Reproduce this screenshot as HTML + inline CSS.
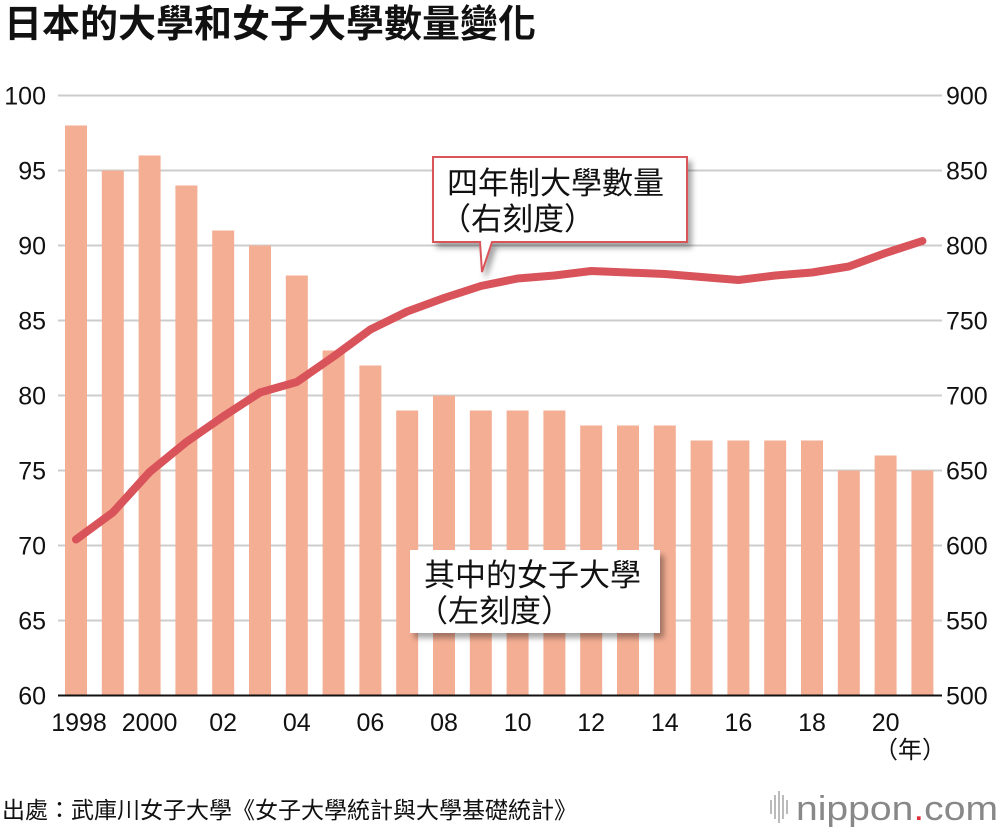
<!DOCTYPE html>
<html><head><meta charset="utf-8"><style>
body{margin:0;background:#fff;}
svg text{font-family:"Liberation Sans","Noto Sans CJK TC",sans-serif;}
</style></head><body>
<svg width="1000" height="830" xmlns="http://www.w3.org/2000/svg">
<defs><filter id="sh" x="-10%" y="-10%" width="130%" height="140%"><feDropShadow dx="4" dy="5" stdDeviation="3" flood-color="#000" flood-opacity="0.35"/></filter></defs>
<text x="4" y="37" font-size="38" font-weight="bold" fill="#111">日本的大學和女子大學數量變化</text>
<g id="grid"></g><g id="bars"></g><g id="line"></g><g id="ticks"></g>
<line x1="58" x2="942" y1="695.5" y2="695.5" stroke="#111" stroke-width="2"/>
<g>
<path d="M433,157 H687 V242 H492 L482,272 L480,242 H433 Z" fill="#fff" stroke="#d9545a" stroke-width="2" filter="url(#sh)"/>
<text x="447" y="194" font-size="31" fill="#111">四年制大學數量</text>
<text x="440" y="230" font-size="31" fill="#111">（右刻度）</text>
</g>
<g>
<rect x="410" y="550" width="250" height="83" fill="#fff" filter="url(#sh)"/>
<text x="424" y="586" font-size="31" fill="#111">其中的女子大學</text>
<text x="417" y="622" font-size="31" fill="#111">（左刻度）</text>
</g>
<text x="946" y="758" font-size="24" text-anchor="end" fill="#111">（年）</text>
<text x="2" y="818" font-size="23" fill="#111">出處：武庫川女子大學《女子大學統計與大學基礎統計》</text>
<g>
<g fill="#bbb"><rect x="770" y="800" width="2" height="14"/><rect x="774" y="795" width="2" height="24"/><rect x="778" y="791" width="2" height="32"/><rect x="782" y="795" width="2" height="24"/><rect x="786" y="800" width="2" height="14"/></g>
<text x="796" y="820" font-size="34" fill="#888" textLength="202" lengthAdjust="spacingAndGlyphs">nippon<tspan fill="#e0313a">.</tspan>com</text>
</g>
<script>
const years=[1998,1999,2000,2001,2002,2003,2004,2005,2006,2007,2008,2009,2010,2011,2012,2013,2014,2015,2016,2017,2018,2019,2020,2021];
const womenUniv=[98,95,96,94,91,90,88,83,82,79,80,79,79,79,78,78,78,77,77,77,77,75,76,75];
const allUniv=[604,622,649,669,686,702,709,726,744,756,765,773,778,780,783,782,781,779,777,780,782,786,795,803];
const leftTicks=[60,65,70,75,80,85,90,95,100];
const rightTicks=[500,550,600,650,700,750,800,850,900];
const xLabels=["1998","2000","02","04","06","08","10","12","14","16","18","20"];
const NS="http://www.w3.org/2000/svg";
const yL=v=>695.5-(v-60)*15;
const yR=v=>695.5-(v-500)*1.5;
const xC=i=>76+i*36.8;
function mk(t,a,p){const e=document.createElementNS(NS,t);for(const k in a)e.setAttribute(k,a[k]);p.appendChild(e);return e;}
const grid=document.getElementById('grid'),bars=document.getElementById('bars'),line=document.getElementById('line'),ticks=document.getElementById('ticks');
leftTicks.forEach((v,i)=>{
 const g=mk('line',{x1:58,x2:942,y1:yL(v),y2:yL(v),stroke:'#ccc','stroke-width':2},grid);
 
 
 const t=mk('text',{x:46,y:yL(v)+9,'font-size':25,'text-anchor':'end',fill:'#111'},ticks);t.textContent=v;
 
 
});
rightTicks.forEach(v=>{
 const t=mk('text',{x:946,y:yR(v)+9,'font-size':25,fill:'#111'},ticks);t.textContent=v;
 
 
});
womenUniv.forEach((v,i)=>{
 const b=mk('rect',{x:xC(i)-11,y:yL(v),width:22,height:695.5-yL(v),fill:'#f4ae94'},bars);
 
 
});
const pl=mk('polyline',{points:allUniv.map((v,i)=>xC(i)+','+yR(v)).join(' '),fill:'none',stroke:'#d9545a','stroke-width':8,'stroke-linejoin':'round','stroke-linecap':'round'},line);


xLabels.forEach((s,k)=>{
 const i=k*2;const t=mk('text',{x:xC(i)+(k===0?3:0),y:731,'font-size':25,'text-anchor':'middle',fill:'#111'},ticks);t.textContent=s;
 
 
});
</script>
</svg>
</body></html>
